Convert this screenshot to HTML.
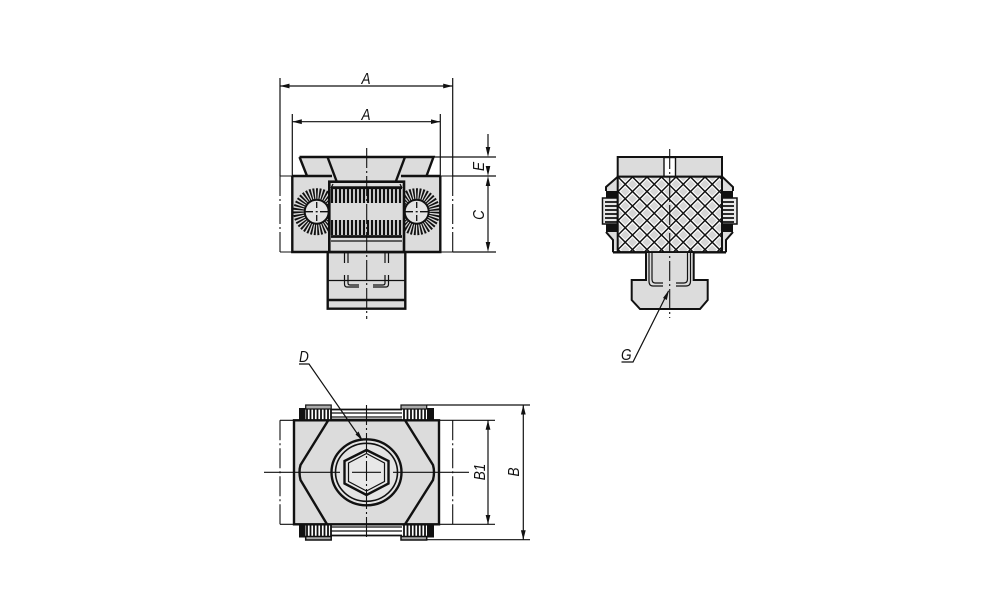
<!DOCTYPE html>
<html><head><meta charset="utf-8"><style>
html,body{margin:0;padding:0;background:#fff;width:1000px;height:611px;overflow:hidden}
svg{display:block}
text{font-family:"Liberation Sans",sans-serif;font-style:italic;font-size:16px;fill:#111}
.t{stroke:#111;stroke-width:1.2;fill:none}
.m{stroke:#111;stroke-width:2;fill:none}
.k{stroke:#111;stroke-width:2.4;fill:none}
.g{fill:#dcdcdc}
.c{stroke:#111;stroke-width:1.1;fill:none;stroke-dasharray:20 3 2 3}
.d{stroke:#111;stroke-width:1.2;fill:none;marker-start:url(#a);marker-end:url(#a)}
</style></head><body>
<svg width="1000" height="611" viewBox="0 0 1000 611" xmlns="http://www.w3.org/2000/svg">
<defs>
<marker id="a" markerUnits="userSpaceOnUse" markerWidth="10" markerHeight="6" refX="9.500" refY="3" orient="auto-start-reverse"><path d="M9.500 3L0 0.600V5.400Z" fill="#111"/></marker>
<clipPath id="cl"><rect x="285" y="180" width="44" height="64"/></clipPath>
<clipPath id="cr"><rect x="404" y="180" width="44" height="64"/></clipPath>
<pattern id="x" width="14.5" height="14.5" patternUnits="userSpaceOnUse" x="618" y="177">
<rect width="14.5" height="14.5" fill="#d6d6d6"/>
<path d="M0 0L14.5 14.5M14.5 0L0 14.5" stroke="#fff" stroke-width="3.800"/>
<path d="M0 0L14.5 14.5M14.5 0L0 14.5" stroke="#111" stroke-width="1.500"/>
</pattern>
</defs>

<!-- TOP VIEW -->
<path class="g" d="M299.500 157H433.500L426 176H440.300V252H405.300V308.700H327.700V252H292.300V176H308Z"/>
<path class="k" d="M299.500 157H433.500L426.500 176M299.500 157L307 176M327.500 157L336.500 181M405 157L396 181"/>
<path class="k" d="M292.300 176H332M401 176H440.300M292.300 176V252H440.300V176"/>
<circle cx="316.700" cy="211.700" r="18" fill="none" stroke="#111" stroke-width="11" stroke-dasharray="1.600 1.300" clip-path="url(#cl)"/>
<circle cx="416.700" cy="211.700" r="18" fill="none" stroke="#111" stroke-width="11" stroke-dasharray="1.600 1.300" clip-path="url(#cr)"/>
<circle cx="316.700" cy="211.700" r="12" fill="#e4e4e4" stroke="#111" stroke-width="2"/>
<circle cx="416.700" cy="211.700" r="12" fill="#e4e4e4" stroke="#111" stroke-width="2"/>
<path d="M305 211.700H313M315.700 211.700H317.700M320 211.700H335M316.700 202V208M316.700 215V221M398 211.700H413M415.700 211.700H417.700M420 211.700H428M416.700 202V208M416.700 215V221" stroke="#111" stroke-width="1.300"/>
<rect x="329.300" y="181.700" width="74.700" height="70.300" fill="#dcdcdc" stroke="#111" stroke-width="2.600"/>
<path d="M331 187.700H402M331 236.500H402" stroke="#111" stroke-width="2.800"/>
<path d="M332 189V203M336 189V203M340 189V203M344 189V203M348 189V203M352 189V203M356 189V203M360 189V203M364 189V203M368 189V203M372 189V203M376 189V203M380 189V203M384 189V203M388 189V203M392 189V203M396 189V203M400 189V203M332 220V235M336 220V235M340 220V235M344 220V235M348 220V235M352 220V235M356 220V235M360 220V235M364 220V235M368 220V235M372 220V235M376 220V235M380 220V235M384 220V235M388 220V235M392 220V235M396 220V235M400 220V235" stroke="#111" stroke-width="2.200"/>
<path class="t" d="M333 184L331 188M400 184L402 188M331 241H402"/>
<path class="k" d="M327.700 252V308.700H405.300V252"/>
<path d="M328 300H405" stroke="#111" stroke-width="2.600"/>
<path class="t" d="M328 280.500H405"/>
<path class="t" d="M344.500 253V263M348 253V263M385 253V263M388.500 253V263M344.500 275V284Q344.500 287 347 287H359M348 275V283Q348 285 350 285H359M388.500 275V284Q388.500 287 386 287H373M385 275V283Q385 285 383 285H373"/>
<path class="c" d="M366.700 148V319"/>

<!-- top dimensions -->
<path class="t" d="M280 78V176M452.700 78V176M292.300 114V176M440.300 114V176"/>
<path class="d" d="M280 86H452.700"/>
<path class="d" d="M292.300 121.700H440.300"/>
<path class="c" d="M280 176V252M452.700 176V252M280 176H292M440 176H453M280 252H292M440 252H453"/>
<path class="t" d="M433 157H496M453 176H496M453 252H496"/>
<path class="t" d="M488 134V147M488 186V242"/>
<path d="M488 157L485.700 147H490.300ZM488 176L485.700 186H490.300ZM488 176L485.700 166H490.300ZM488 252L485.700 242H490.300Z" fill="#111"/>
<text transform="translate(366,84) scale(.85,1)" text-anchor="middle">A</text>
<text transform="translate(366,120) scale(.85,1)" text-anchor="middle">A</text>
<text transform="translate(484,166.500) rotate(-90) scale(.85,1)" text-anchor="middle">E</text>
<text transform="translate(484,215) rotate(-90) scale(.85,1)" text-anchor="middle">C</text>

<!-- SIDE VIEW -->
<rect x="617.700" y="157" width="104.300" height="19.700" fill="#dcdcdc" stroke="#111" stroke-width="2"/>
<rect x="664" y="157.500" width="11.500" height="19" fill="#fff" stroke="#111" stroke-width="1.400"/>
<path class="g" d="M606 188L618 178V250H613V240L606 232Z"/>
<path class="g" d="M733 188L722 178V250H726V240L733 232Z"/>
<path class="m" d="M617.500 177L606 187V191M722.500 177L733 187V191M606 232L613 240V252.300M733 232L726 240V252.300"/>
<rect x="606" y="191" width="11.500" height="7" fill="#111"/>
<rect x="606" y="224" width="11.500" height="8" fill="#111"/>
<rect x="722" y="191" width="11" height="7" fill="#111"/>
<rect x="722" y="224" width="11" height="8" fill="#111"/>
<rect x="602.500" y="198" width="15" height="26" fill="#e8e8e8" stroke="#111" stroke-width="1.500"/>
<rect x="722" y="198" width="15" height="26" fill="#e8e8e8" stroke="#111" stroke-width="1.500"/>
<path d="M605 202H617M605 206H617M605 210H617M605 214H617M605 218H617M605 222H617M722 202H734M722 206H734M722 210H734M722 214H734M722 218H734M722 222H734" stroke="#111" stroke-width="1.800"/>
<rect x="617.700" y="176.700" width="104.300" height="75.600" fill="url(#x)" stroke="#111" stroke-width="2"/>
<path d="M613 252.300H726" stroke="#111" stroke-width="2.400"/>
<path class="g" d="M646 253H693.700V280H707.700V300L700 309H640L631.700 300V280H646Z"/>
<path class="m" d="M646 253V280H631.700V300L640 309H700L707.700 300V280H693.700V253"/>
<path class="t" d="M649 253V281Q649 286 653 286H663M652 253V279Q652 283 655 283H663M690.500 253V281Q690.500 286 686 286H676M687.500 253V279Q687.500 283 684 283H676"/>
<path class="c" d="M669.700 149V318"/>
<path class="t" d="M668.500 291L633 362H621.500"/>
<path d="M669 290L663 298L666.800 300Z" fill="#111"/>
<text transform="translate(621,360) scale(.85,1)">G</text>

<!-- BOTTOM VIEW -->
<path class="t" d="M331 413H402M331 417H402M331 527H402M331 531H402"/>
<path d="M331 409.500H402M331 419.500H402M331 524.500H402M331 535.500H402" stroke="#111" stroke-width="1.800"/>
<rect x="305.700" y="405" width="25.500" height="4" fill="#aaa" stroke="#111" stroke-width="1.200"/>
<rect x="401" y="405" width="25.700" height="4" fill="#aaa" stroke="#111" stroke-width="1.200"/>
<rect x="305.700" y="536.500" width="25.500" height="3.500" fill="#aaa" stroke="#111" stroke-width="1.500"/>
<rect x="401" y="536.500" width="25.700" height="3.500" fill="#aaa" stroke="#111" stroke-width="1.500"/>
<rect x="299" y="408" width="6.500" height="12.300" fill="#111"/>
<rect x="427" y="408" width="7" height="12.300" fill="#111"/>
<rect x="299" y="525" width="6.500" height="12.500" fill="#111"/>
<rect x="427" y="525" width="7" height="12.500" fill="#111"/>
<path d="M307 409V420M310.500 409V420M314 409V420M317.500 409V420M321 409V420M324.500 409V420M328 409V420M331 409V420M404 409V420M407.500 409V420M411 409V420M414.500 409V420M418 409V420M421.500 409V420M425 409V420M307 525V537M310.500 525V537M314 525V537M317.500 525V537M321 525V537M324.500 525V537M328 525V537M331 525V537M404 525V537M407.500 525V537M411 525V537M414.500 525V537M418 525V537M421.500 525V537M425 525V537" stroke="#111" stroke-width="1.800"/>
<rect x="294" y="420.300" width="145" height="104" fill="#dcdcdc" stroke="#111" stroke-width="2.400"/>
<path class="k" d="M328.300 420.300L300.500 465Q298.500 472 300.500 480L327 524.300M405 420.300L433 465Q435 472 433 480L405 524.300"/>
<ellipse cx="366.500" cy="472.300" rx="35" ry="33" fill="#e4e4e4" stroke="#111" stroke-width="2.400"/>
<ellipse cx="366.500" cy="472.300" rx="31" ry="29" fill="none" stroke="#111" stroke-width="1.600"/>
<path d="M366.500 450L388.500 461V483.500L366.500 495L344.500 483.500V461Z" fill="#e8e8e8" stroke="#111" stroke-width="2.400"/>
<path d="M366.500 453.500L384.500 463V481.500L366.500 491L348.500 481.500V463Z" fill="none" stroke="#111" stroke-width="1.200"/>
<path d="M264 472.300H340M352 472.300H381M393 472.300H469" stroke="#111" stroke-width="1.200"/>
<path class="c" d="M366.500 405V540"/>
<path class="c" d="M280 420.300V524.300M452.700 420.300V524.300M280 420.300H294M280 524.300H294M439 420.300H453M439 524.300H453"/>
<path class="t" d="M427 405H530M427 539.700H530M453 420.300H495M453 524.300H495"/>
<path class="d" d="M488 420.300V524.300"/>
<path class="d" d="M523.300 405V539.700"/>
<text transform="translate(485,472) rotate(-90) scale(.85,1)" text-anchor="middle">B1</text>
<text transform="translate(519,472) rotate(-90) scale(.85,1)" text-anchor="middle">B</text>
<text transform="translate(299,362) scale(.85,1)">D</text>
<path class="t" d="M299 364H309L361 439"/>
<path d="M363 441L355.500 434.500L358.500 431.500Z" fill="#111"/>
</svg>
</body></html>
